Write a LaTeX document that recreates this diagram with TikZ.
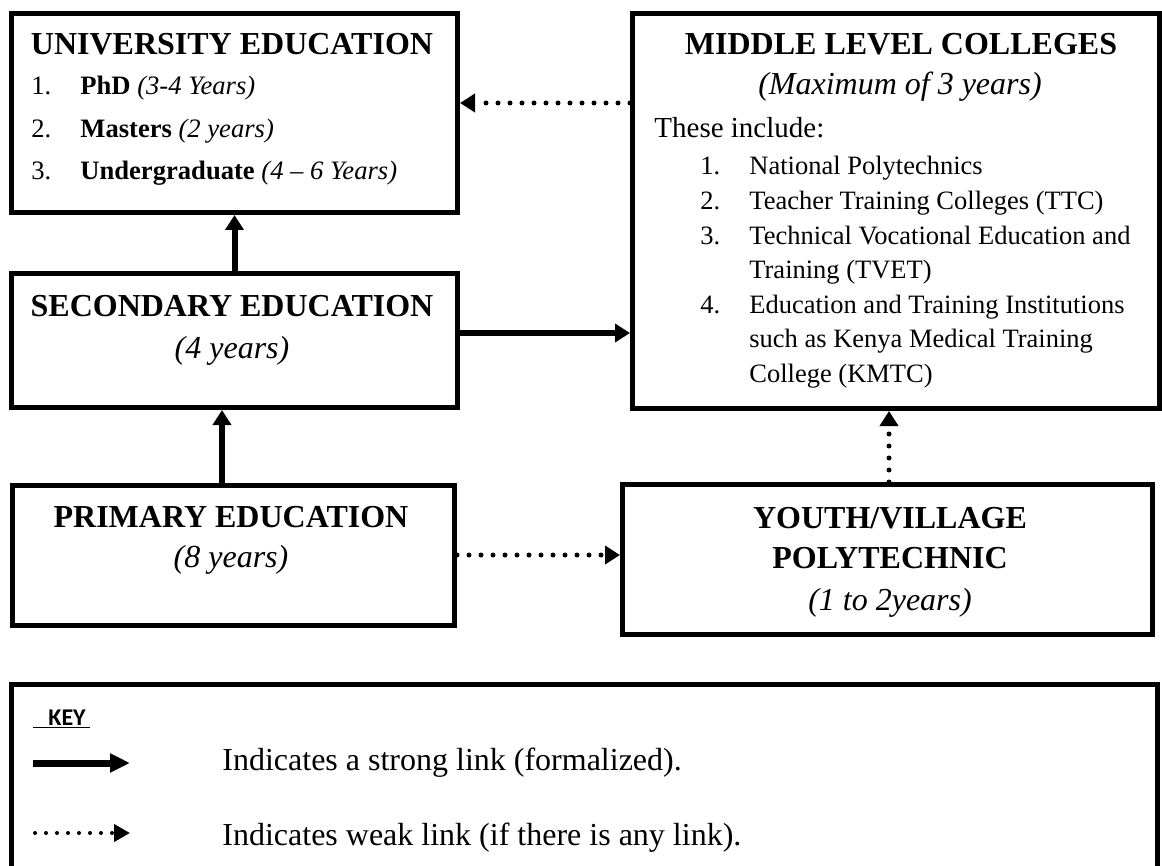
\documentclass[tikz,border=0pt]{standalone}
\usepackage{fontspec}
\setmainfont{Liberation Serif}
\newfontfamily\keyfont{Carlito}
\usetikzlibrary{arrows.meta}

\begin{document}
\begin{tikzpicture}[x=.5pt,y=-.5pt,
 box/.style={draw,line width=2.5pt,inner sep=0pt,anchor=north west},
 hd/.style={inner sep=0pt,anchor=base,font=\fontsize{16}{19}\selectfont\bfseries},
 sub/.style={inner sep=0pt,anchor=base,font=\fontsize{16}{19}\selectfont\itshape},
 lst/.style={inner sep=0pt,anchor=base west},
 strong/.style={-{Triangle[length=7.5pt,width=9pt]},line width=3pt},
 weak/.style={-{Triangle[length=7.5pt,width=9pt]},line width=2.5pt,line cap=round,dash pattern=on 0pt off 6pt}]
\useasboundingbox (0,0) rectangle (1162,866);
\clip (0,0) rectangle (1162,866);
\node[box,minimum width=223pt,minimum height=99.5pt] (uni) at (9,11) {};
\node[box,minimum width=223pt,minimum height=67pt] (sec) at (9,271) {};
\node[box,minimum width=221pt,minimum height=70pt] (pri) at (10,483) {};
\node[box,minimum width=263.5pt,minimum height=197.5pt] (mlc) at (630,11) {};
\node[box,minimum width=265pt,minimum height=75pt] (yvp) at (620,482) {};
\node[box,minimum width=573pt,minimum height=110pt] (key) at (9,682) {};
\node[hd] (unih) at (232,55) {UNIVERSITY EDUCATION};
\node[lst,font=\fontsize{13.3}{21.25}\selectfont] (unil) at (31,95) {\begin{tabular}[t]{@{}p{24.5pt}@{}l@{}}1.&\textbf{PhD} \textit{(3-4 Years)}\\2.&\textbf{Masters} \textit{(2 years)}\\3.&\textbf{Undergraduate} \textit{(4 -- 6 Years)}\end{tabular}};
\node[hd] (mlch) at (901,55) {MIDDLE LEVEL COLLEGES};
\node[sub] (mlcs) at (900,95) {(Maximum of 3 years)};
\node[lst,font=\fontsize{14.5}{17}\selectfont] (mlci) at (654,138) {These include:};
\node[lst,font=\fontsize{13.25}{17.3}\selectfont] (mlcl) at (700,175) {\begin{tabular}[t]{@{}p{24.5pt}@{}l@{}}1.&National Polytechnics\\2.&Teacher Training Colleges (TTC)\\3.&Technical Vocational Education and\\&Training (TVET)\\4.&Education and Training Institutions\\&such as Kenya Medical Training\\&College (KMTC)\end{tabular}};
\node[hd] (sech) at (232,316) {SECONDARY EDUCATION};
\node[sub] (secs) at (232,358) {(4 years)};
\node[hd] (prih) at (231,527) {PRIMARY EDUCATION};
\node[sub] (pris) at (231,567) {(8 years)};
\node[hd] (yvph) at (890,528) {YOUTH/VILLAGE};
\node[hd] (yvpp) at (890,568) {POLYTECHNIC};
\node[sub] (yvps) at (890,610) {(1 to 2years)};
\node[lst,font=\keyfont\fontsize{12}{14}\selectfont\bfseries] (keyh) at (33,725) {\underline{\hspace{7.5pt}KEY\hspace{2pt}}};
\node[lst,font=\fontsize{16}{19}\selectfont] (keys) at (222,770) {Indicates a strong link (formalized).};
\node[lst,font=\fontsize{16}{19}\selectfont] (keyw) at (222,845) {Indicates weak link (if there is any link).};
\coordinate (ks) at (33,763);
\coordinate (ke) at (130,763);
\coordinate (kw) at (35,833);
\coordinate (kx) at (130,833);
\draw[weak] (mlc.west |- 0,103) -- (uni.east |- 0,103);
\draw[strong] (sec) -- (uni);
\draw[strong] (pri.north -| 222,0) -- (sec.south -| 222,0);
\draw[strong] (sec.east |- 0,333) -- (mlc.west |- 0,333);
\draw[weak] (pri.east |- 0,555) -- (yvp.west |- 0,555);
\draw[weak] (yvp.north -| 889,0) -- (mlc.south -| 889,0);
\draw[strong,line width=3.5pt,-{Triangle[length=10pt,width=9pt]}] (ks) -- (ke);
\draw[weak,line width=2pt,dash pattern=on 0pt off 5.5pt,-{Triangle[length=8pt,width=8.5pt]}] (kw) -- (kx);
\end{tikzpicture}
\end{document}
